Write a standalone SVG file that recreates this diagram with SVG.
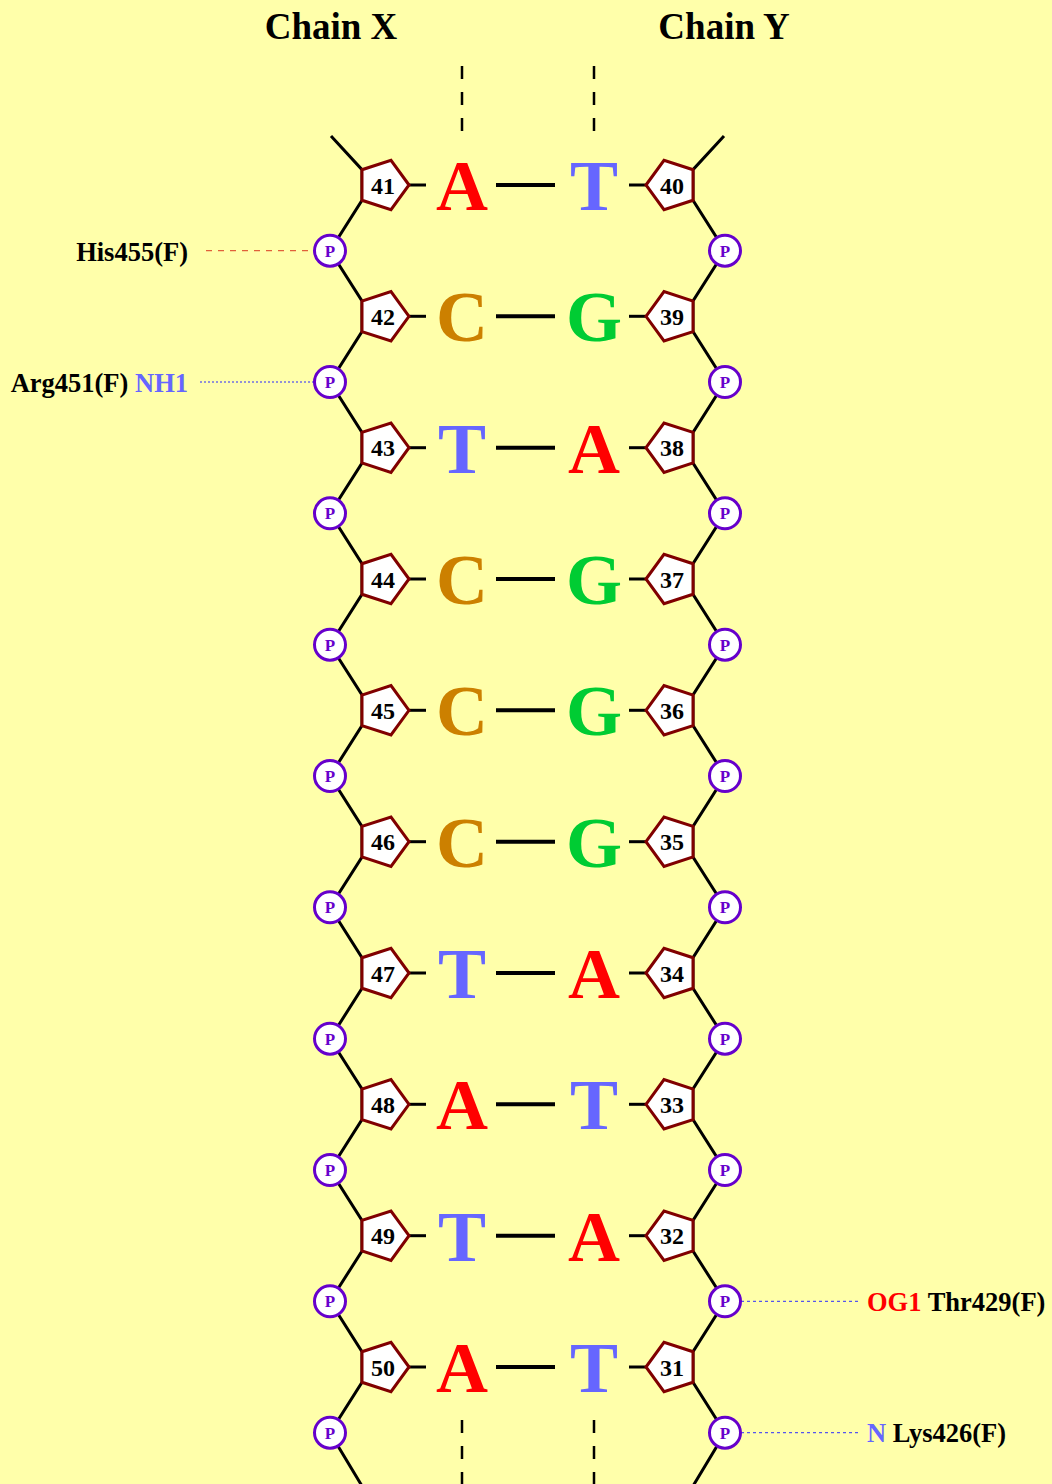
<svg xmlns="http://www.w3.org/2000/svg" width="1052" height="1484" viewBox="0 0 1052 1484">
<style>
text{font-family:"Liberation Serif","Times New Roman",serif;font-weight:bold}
.title{font-size:37px;text-anchor:middle;fill:#000}
.base{font-size:72px;text-anchor:middle}
.A{fill:#ff0000}.T{fill:#6666ff}.C{fill:#cc8000}.G{fill:#00cc33}
.num{font-size:24px;text-anchor:middle;fill:#000}
.pent{fill:#ffffff;stroke:#800000;stroke-width:3;stroke-linejoin:miter}
.pc{fill:#ffffff;stroke:#6600cc;stroke-width:3}
.pt{font-size:17px;text-anchor:middle;fill:#6600cc}
.bb{fill:none;stroke:#000;stroke-width:3}
.bond{stroke:#000;stroke-width:3}
.hb{stroke:#000;stroke-width:4}
.dash{stroke:#000;stroke-width:2.5;stroke-dasharray:13 13}
.lab{font-size:26.5px;fill:#000}
</style>
<defs>
<polygon id="pl" class="pent" points="26,0 8,-24.7 -21,-15.3 -21,15.3 8,24.7"/>
<polygon id="pr" class="pent" points="-26,0 -8,-24.7 21,-15.3 21,15.3 -8,24.7"/>
</defs>
<rect x="0" y="0" width="1052" height="1484" fill="#ffffaa"/>
<text class="title" x="331" y="39">Chain X</text>
<text class="title" x="724" y="39">Chain Y</text>
<g id="connectors">
<line class="dash" x1="462" y1="66" x2="462" y2="133"/>
<line class="dash" x1="594" y1="66" x2="594" y2="133"/>
<line class="dash" x1="462" y1="1420" x2="462" y2="1490"/>
<line class="dash" x1="594" y1="1420" x2="594" y2="1490"/>
<polyline class="bb" points="331,136 362,169.7 362,200.3 330,250.7 362,301 362,331.6 330,382 362,432.4 362,463 330,513.3 362,563.7 362,594.3 330,644.7 362,695 362,725.6 330,776 362,826.4 362,857 330,907.3 362,957.7 362,988.3 330,1038.7 362,1089 362,1119.6 330,1170 362,1220.4 362,1251 330,1301.3 362,1351.7 362,1382.3 330,1432.7 362,1486"/>
<polyline class="bb" points="724,136 693,169.7 693,200.3 725,250.7 693,301 693,331.6 725,382 693,432.4 693,463 725,513.3 693,563.7 693,594.3 725,644.7 693,695 693,725.6 725,776 693,826.4 693,857 725,907.3 693,957.7 693,988.3 725,1038.7 693,1089 693,1119.6 725,1170 693,1220.4 693,1251 725,1301.3 693,1351.7 693,1382.3 725,1432.7 693,1486"/>
<g id="bonds">
<line class="bond" x1="409" y1="185" x2="426" y2="185"/><line class="hb" x1="496" y1="185" x2="555" y2="185"/><line class="bond" x1="629" y1="185" x2="646" y2="185"/>
<line class="bond" x1="409" y1="316.3" x2="426" y2="316.3"/><line class="hb" x1="496" y1="316.3" x2="555" y2="316.3"/><line class="bond" x1="629" y1="316.3" x2="646" y2="316.3"/>
<line class="bond" x1="409" y1="447.7" x2="426" y2="447.7"/><line class="hb" x1="496" y1="447.7" x2="555" y2="447.7"/><line class="bond" x1="629" y1="447.7" x2="646" y2="447.7"/>
<line class="bond" x1="409" y1="579" x2="426" y2="579"/><line class="hb" x1="496" y1="579" x2="555" y2="579"/><line class="bond" x1="629" y1="579" x2="646" y2="579"/>
<line class="bond" x1="409" y1="710.3" x2="426" y2="710.3"/><line class="hb" x1="496" y1="710.3" x2="555" y2="710.3"/><line class="bond" x1="629" y1="710.3" x2="646" y2="710.3"/>
<line class="bond" x1="409" y1="841.7" x2="426" y2="841.7"/><line class="hb" x1="496" y1="841.7" x2="555" y2="841.7"/><line class="bond" x1="629" y1="841.7" x2="646" y2="841.7"/>
<line class="bond" x1="409" y1="973" x2="426" y2="973"/><line class="hb" x1="496" y1="973" x2="555" y2="973"/><line class="bond" x1="629" y1="973" x2="646" y2="973"/>
<line class="bond" x1="409" y1="1104.3" x2="426" y2="1104.3"/><line class="hb" x1="496" y1="1104.3" x2="555" y2="1104.3"/><line class="bond" x1="629" y1="1104.3" x2="646" y2="1104.3"/>
<line class="bond" x1="409" y1="1235.7" x2="426" y2="1235.7"/><line class="hb" x1="496" y1="1235.7" x2="555" y2="1235.7"/><line class="bond" x1="629" y1="1235.7" x2="646" y2="1235.7"/>
<line class="bond" x1="409" y1="1367" x2="426" y2="1367"/><line class="hb" x1="496" y1="1367" x2="555" y2="1367"/><line class="bond" x1="629" y1="1367" x2="646" y2="1367"/>
</g>
<line x1="206" y1="250.7" x2="314" y2="250.7" stroke="#e0603a" stroke-width="1.2" stroke-dasharray="6 6"/>
<line x1="200" y1="382" x2="314" y2="382" stroke="#2828ff" stroke-width="1" stroke-dasharray="2 2"/>
<line x1="741" y1="1301.3" x2="858" y2="1301.3" stroke="#5555ee" stroke-width="1.2" stroke-dasharray="3 3"/>
<line x1="741" y1="1432.7" x2="858" y2="1432.7" stroke="#5555ee" stroke-width="1.2" stroke-dasharray="3 3"/>
</g>
<g id="labels">
<text class="lab" x="188" y="260.5" text-anchor="end">His455(F)</text>
<text class="lab" x="188" y="391.8" text-anchor="end">Arg451(F) <tspan fill="#6666ff">NH1</tspan></text>
<text class="lab" x="867" y="1310.8"><tspan fill="#ff0000">OG1</tspan> Thr429(F)</text>
<text class="lab" x="867" y="1442.2"><tspan fill="#6666ff">N</tspan> Lys426(F)</text>
</g>
<g id="pairs">
<g id="pair0"><text class="base A" x="462" y="210">A</text><text class="base T" x="594" y="210">T</text></g>
<g id="pair1"><text class="base C" x="462" y="341.3">C</text><text class="base G" x="594" y="341.3">G</text></g>
<g id="pair2"><text class="base T" x="462" y="472.7">T</text><text class="base A" x="594" y="472.7">A</text></g>
<g id="pair3"><text class="base C" x="462" y="604">C</text><text class="base G" x="594" y="604">G</text></g>
<g id="pair4"><text class="base C" x="462" y="735.3">C</text><text class="base G" x="594" y="735.3">G</text></g>
<g id="pair5"><text class="base C" x="462" y="866.7">C</text><text class="base G" x="594" y="866.7">G</text></g>
<g id="pair6"><text class="base T" x="462" y="998">T</text><text class="base A" x="594" y="998">A</text></g>
<g id="pair7"><text class="base A" x="462" y="1129.3">A</text><text class="base T" x="594" y="1129.3">T</text></g>
<g id="pair8"><text class="base T" x="462" y="1260.7">T</text><text class="base A" x="594" y="1260.7">A</text></g>
<g id="pair9"><text class="base A" x="462" y="1392">A</text><text class="base T" x="594" y="1392">T</text></g>
</g>
<g id="sugarsX">
<g id="s41"><use href="#pl" x="383" y="185"/><text class="num" x="383" y="193.5">41</text></g>
<g id="s42"><use href="#pl" x="383" y="316.3"/><text class="num" x="383" y="324.8">42</text></g>
<g id="s43"><use href="#pl" x="383" y="447.7"/><text class="num" x="383" y="456.2">43</text></g>
<g id="s44"><use href="#pl" x="383" y="579"/><text class="num" x="383" y="587.5">44</text></g>
<g id="s45"><use href="#pl" x="383" y="710.3"/><text class="num" x="383" y="718.8">45</text></g>
<g id="s46"><use href="#pl" x="383" y="841.7"/><text class="num" x="383" y="850.2">46</text></g>
<g id="s47"><use href="#pl" x="383" y="973"/><text class="num" x="383" y="981.5">47</text></g>
<g id="s48"><use href="#pl" x="383" y="1104.3"/><text class="num" x="383" y="1112.8">48</text></g>
<g id="s49"><use href="#pl" x="383" y="1235.7"/><text class="num" x="383" y="1244.2">49</text></g>
<g id="s50"><use href="#pl" x="383" y="1367"/><text class="num" x="383" y="1375.5">50</text></g>
</g>
<g id="sugarsY">
<g id="s40"><use href="#pr" x="672" y="185"/><text class="num" x="672" y="193.5">40</text></g>
<g id="s39"><use href="#pr" x="672" y="316.3"/><text class="num" x="672" y="324.8">39</text></g>
<g id="s38"><use href="#pr" x="672" y="447.7"/><text class="num" x="672" y="456.2">38</text></g>
<g id="s37"><use href="#pr" x="672" y="579"/><text class="num" x="672" y="587.5">37</text></g>
<g id="s36"><use href="#pr" x="672" y="710.3"/><text class="num" x="672" y="718.8">36</text></g>
<g id="s35"><use href="#pr" x="672" y="841.7"/><text class="num" x="672" y="850.2">35</text></g>
<g id="s34"><use href="#pr" x="672" y="973"/><text class="num" x="672" y="981.5">34</text></g>
<g id="s33"><use href="#pr" x="672" y="1104.3"/><text class="num" x="672" y="1112.8">33</text></g>
<g id="s32"><use href="#pr" x="672" y="1235.7"/><text class="num" x="672" y="1244.2">32</text></g>
<g id="s31"><use href="#pr" x="672" y="1367"/><text class="num" x="672" y="1375.5">31</text></g>
</g>
<g id="phosphatesX">
<g id="pX1"><circle class="pc" cx="330" cy="250.7" r="15.5"/><text class="pt" x="330" y="256.5">P</text></g>
<g id="pX2"><circle class="pc" cx="330" cy="382" r="15.5"/><text class="pt" x="330" y="387.8">P</text></g>
<g id="pX3"><circle class="pc" cx="330" cy="513.3" r="15.5"/><text class="pt" x="330" y="519.1">P</text></g>
<g id="pX4"><circle class="pc" cx="330" cy="644.7" r="15.5"/><text class="pt" x="330" y="650.5">P</text></g>
<g id="pX5"><circle class="pc" cx="330" cy="776" r="15.5"/><text class="pt" x="330" y="781.8">P</text></g>
<g id="pX6"><circle class="pc" cx="330" cy="907.3" r="15.5"/><text class="pt" x="330" y="913.1">P</text></g>
<g id="pX7"><circle class="pc" cx="330" cy="1038.7" r="15.5"/><text class="pt" x="330" y="1044.5">P</text></g>
<g id="pX8"><circle class="pc" cx="330" cy="1170" r="15.5"/><text class="pt" x="330" y="1175.8">P</text></g>
<g id="pX9"><circle class="pc" cx="330" cy="1301.3" r="15.5"/><text class="pt" x="330" y="1307.1">P</text></g>
<g id="pX10"><circle class="pc" cx="330" cy="1432.7" r="15.5"/><text class="pt" x="330" y="1438.5">P</text></g>
</g>
<g id="phosphatesY">
<g id="pY1"><circle class="pc" cx="725" cy="250.7" r="15.5"/><text class="pt" x="725" y="256.5">P</text></g>
<g id="pY2"><circle class="pc" cx="725" cy="382" r="15.5"/><text class="pt" x="725" y="387.8">P</text></g>
<g id="pY3"><circle class="pc" cx="725" cy="513.3" r="15.5"/><text class="pt" x="725" y="519.1">P</text></g>
<g id="pY4"><circle class="pc" cx="725" cy="644.7" r="15.5"/><text class="pt" x="725" y="650.5">P</text></g>
<g id="pY5"><circle class="pc" cx="725" cy="776" r="15.5"/><text class="pt" x="725" y="781.8">P</text></g>
<g id="pY6"><circle class="pc" cx="725" cy="907.3" r="15.5"/><text class="pt" x="725" y="913.1">P</text></g>
<g id="pY7"><circle class="pc" cx="725" cy="1038.7" r="15.5"/><text class="pt" x="725" y="1044.5">P</text></g>
<g id="pY8"><circle class="pc" cx="725" cy="1170" r="15.5"/><text class="pt" x="725" y="1175.8">P</text></g>
<g id="pY9"><circle class="pc" cx="725" cy="1301.3" r="15.5"/><text class="pt" x="725" y="1307.1">P</text></g>
<g id="pY10"><circle class="pc" cx="725" cy="1432.7" r="15.5"/><text class="pt" x="725" y="1438.5">P</text></g>
</g>
</svg>
